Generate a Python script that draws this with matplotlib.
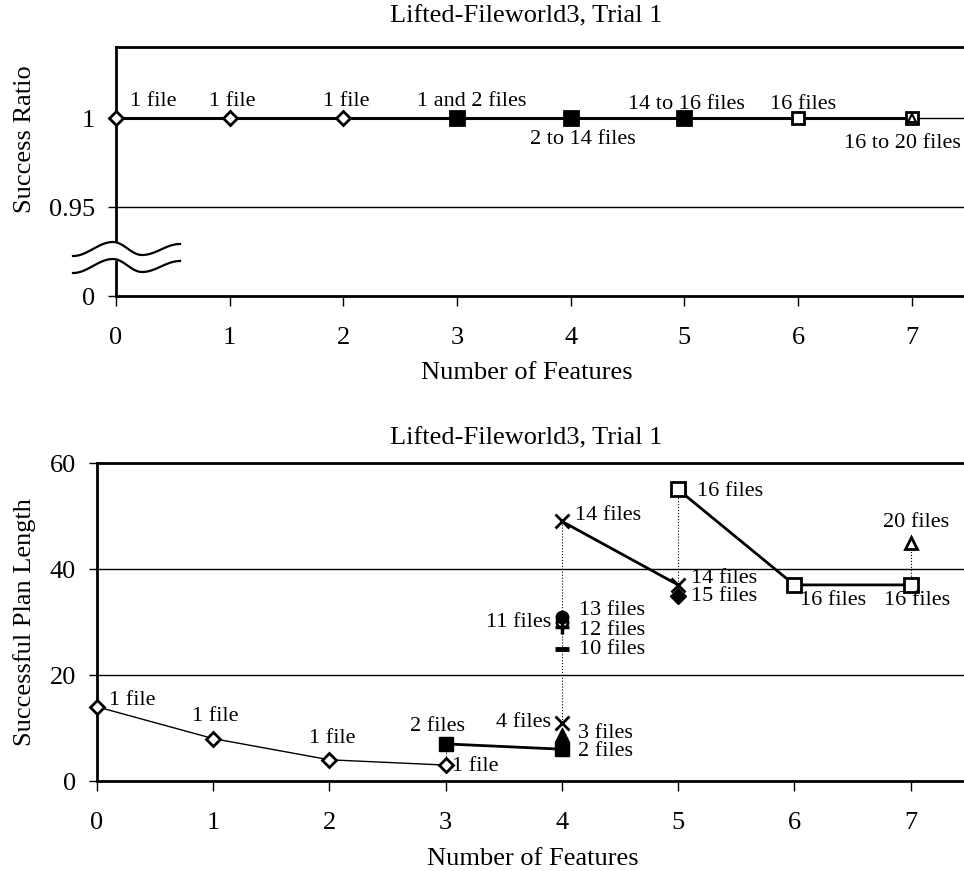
import matplotlib
matplotlib.use("Agg")
import matplotlib.pyplot as plt
import numpy as np

plt.rcParams['font.family'] = ['Liberation Serif', 'DejaVu Serif']

# ---- top panel: success ratio ----
sr_x = [0, 1, 2, 3, 4, 5, 6, 7]
sr_y = [1, 1, 1, 1, 1, 1, 1, 1]
sr_labels = ["1 file", "1 file", "1 file", "1 and 2 files", "2 to 14 files",
             "14 to 16 files", "16 files", "16 to 20 files"]

# ---- bottom panel: plan length per file count ----
one_x = [0, 1, 2, 3]
one_y = [14, 8, 4, 3]
two_x = [3, 4]
two_y = [7, 6]
three_x, three_y = [4], [8.7]
four_x, four_y = [4], [11]
ten_x, ten_y = [4], [25]
eleven_x, eleven_y = [4], [30]
twelve_x, twelve_y = [4], [29]
thirteen_x, thirteen_y = [4], [31]
fourteen_x = [4, 5]
fourteen_y = [49, 37]
fifteen_x, fifteen_y = [5], [35]
sixteen_x = [5, 6, 7]
sixteen_y = [55, 37, 37]
twenty_x, twenty_y = [7], [45]

TICK = 19
LABEL = 19
ANN = 16
TITLE = 19

fig = plt.figure(figsize=(9.64, 8.71), dpi=100)

def style_axes(ax):
    for s in ['left', 'top', 'bottom']:
        ax.spines[s].set_linewidth(2)
    ax.spines['right'].set_visible(False)
    ax.tick_params(axis='x', direction='out', length=7, width=1, labelsize=TICK, pad=15)
    ax.tick_params(axis='y', direction='out', length=6, width=1, labelsize=TICK, pad=9)
    ax.set_xticks(range(8))

# top
ax1 = fig.add_axes([116/964, 1-296/871, 1-116/964, (296-47)/871])
style_axes(ax1)
ax1.set_xlim(0, 7.46)
ax1.set_ylim(0.9, 1.04)
ax1.set_yticks([0.9, 0.95, 1.0])
ax1.set_yticklabels(["0", "0.95", "1"])
for yv in [0.95, 1.0]:
    ax1.axhline(yv, color='black', lw=1, zorder=1)
ax1.plot(sr_x, sr_y, color='black', lw=2.2, zorder=2)
mk = dict(color='black', mew=2, zorder=5, linestyle='none', clip_on=False)
ax1.plot(sr_x[0:3], sr_y[0:3], marker='D', ms=7, mfc='white', **mk)
ax1.plot(sr_x[3:6], sr_y[3:6], marker='s', ms=10, mfc='black', **mk)
ax1.plot(sr_x[6:8], sr_y[6:8], marker='s', ms=9, mfc='white', **mk)
ax1.plot(sr_x[7:8], sr_y[7:8], marker='^', ms=6, mfc='white', mew=1.5,
         color='black', zorder=6, linestyle='none')
ax1.set_ylabel("Success Ratio", fontsize=LABEL)
ax1.yaxis.set_label_coords(-80/848, (296-139)/249)
ax1.set_xlabel("Number of Features", fontsize=LABEL)
ax1.xaxis.set_label_coords((527-116)/848, -0.265)
top_offsets = [(14, 17, 'left'), (3, 17, 'center'), (3, 17, 'center'),
               (15, 17, 'center'), (12, -21, 'center'), (2, 14, 'center'),
               (5, 14, 'center'), (-9, -25, 'center')]
for x, y, t, (dx, dy, ha) in zip(sr_x, sr_y, sr_labels, top_offsets):
    ax1.annotate(t, (x, y), xytext=(dx, dy), textcoords='offset pixels',
                 ha=ha, va='center', fontsize=ANN)
fig.text(526/964, 1-16/871, "Lifted-Fileworld3, Trial 1", ha='center',
         va='center', fontsize=TITLE)

# axis break marks on the top panel (figure pixel coords)
kx = [73, 113, 142, 180]
ky = [256, 242, 255, 244]
bx, by = [], []
for i in range(3):
    t = np.linspace(0, 1, 30)
    e = (1 - np.cos(np.pi * t)) / 2
    bx.extend(kx[i] + (kx[i+1] - kx[i]) * t)
    by.extend(ky[i] + (ky[i+1] - ky[i]) * e)
bx = np.array(bx)
up = np.array(by)
lo = up + 17
ax1.fill_between(bx, 871 - up, 871 - lo, color='white', transform=None,
                 zorder=10, clip_on=False)
ax1.plot(bx, 871 - up, color='black', lw=1.6, transform=None, clip_on=False, zorder=11)
ax1.plot(bx, 871 - lo, color='black', lw=1.6, transform=None, clip_on=False, zorder=11)

# bottom
ax2 = fig.add_axes([97/964, 1-781/871, 1-97/964, (781-463)/871])
style_axes(ax2)
ax2.set_xlim(0, 7.46)
ax2.set_ylim(0, 60)
ax2.set_yticks([0, 20, 40, 60])
for yv in [20, 40]:
    ax2.axhline(yv, color='black', lw=1, zorder=1)
ax2.set_ylabel("Successful Plan Length", fontsize=LABEL)
ax2.yaxis.set_label_coords(-61/867, 0.5)
ax2.set_xlabel("Number of Features", fontsize=LABEL)
ax2.xaxis.set_label_coords((533-97)/867, -0.212)
fig.text(526/964, 1-438/871, "Lifted-Fileworld3, Trial 1", ha='center',
         va='center', fontsize=TITLE)

# dotted connectors
dot = dict(color='black', lw=0.8, linestyle=':', zorder=1)
ax2.plot([3, 3], [one_y[3], two_y[0]], **dot)
ax2.plot([4, 4], [two_y[1], fourteen_y[0]], **dot)
ax2.plot([5, 5], [fifteen_y[0], sixteen_y[0]], **dot)
ax2.plot([7, 7], [sixteen_y[2], twenty_y[0]], **dot)

ax2.plot(one_x, one_y, color='black', lw=1, marker='D', ms=7, mfc='white', mew=2,
         zorder=5, clip_on=False)
ax2.plot(two_x, two_y, color='black', lw=2, marker='s', ms=10, mfc='black', zorder=3)
ax2.plot(three_x, three_y, color='black', marker='^', ms=10, mfc='black', linestyle='none', zorder=3)
ax2.plot(four_x, four_y, color='black', marker='x', ms=10, mew=2, linestyle='none', zorder=3)
ax2.plot(ten_x, ten_y, color='black', marker='_', ms=10, mew=3.5, linestyle='none', zorder=3)
ax2.plot(eleven_x, eleven_y, color='black', marker='o', ms=8, mfc='white', mew=2, linestyle='none', zorder=3)
ax2.plot(twelve_x, twelve_y, color='black', marker='+', ms=10, mew=2.5, linestyle='none', zorder=4)
ax2.plot(thirteen_x, thirteen_y, color='black', marker='o', ms=9, mfc='black', linestyle='none', zorder=4)
ax2.plot(fourteen_x, fourteen_y, color='black', lw=2, marker='x', ms=10, mew=2, zorder=3)
ax2.plot(fifteen_x, fifteen_y, color='black', marker='D', ms=8, mfc='black', linestyle='none', zorder=3)
ax2.plot(sixteen_x, sixteen_y, color='black', lw=2, marker='s', ms=10, mfc='white', mew=2, zorder=3)
ax2.plot(twenty_x, twenty_y, color='black', marker='^', ms=9, mfc='white', mew=2, linestyle='none', zorder=3)

def lab(x, y, t, dx, dy, ha='left'):
    ax2.annotate(t, (x, y), xytext=(dx, -dy), textcoords='offset pixels',
                 ha=ha, va='center', fontsize=ANN)

lab(one_x[0], one_y[0], "1 file", 12, -6)
lab(one_x[1], one_y[1], "1 file", 2, -22, 'center')
lab(one_x[2], one_y[2], "1 file", 3, -21, 'center')
lab(one_x[3], one_y[3], "1 file", 6, 1)
lab(two_x[0], two_y[0], "2 files", -8, -17, 'center')
lab(two_x[1], two_y[1], "2 files", 16, 2)
lab(three_x[0], three_y[0], "3 files", 16, -1)
lab(four_x[0], four_y[0], "4 files", -11, 0, 'right')
lab(ten_x[0], ten_y[0], "10 files", 17, 1)
lab(eleven_x[0], eleven_y[0], "11 files", -11, 0, 'right')
lab(twelve_x[0], twelve_y[0], "12 files", 17, 3)
lab(thirteen_x[0], thirteen_y[0], "13 files", 17, -6)
lab(fourteen_x[0], fourteen_y[0], "14 files", 13, -6)
lab(fourteen_x[1], fourteen_y[1], "14 files", 13, -6)
lab(fifteen_x[0], fifteen_y[0], "15 files", 13, 1)
lab(sixteen_x[0], sixteen_y[0], "16 files", 19, 2)
lab(sixteen_x[1], sixteen_y[1], "16 files", 6, 16)
lab(sixteen_x[2], sixteen_y[2], "16 files", 7, 16, 'center')
lab(twenty_x[0], twenty_y[0], "20 files", 6, -20, 'center')

fig.savefig("out.png", dpi=100)
